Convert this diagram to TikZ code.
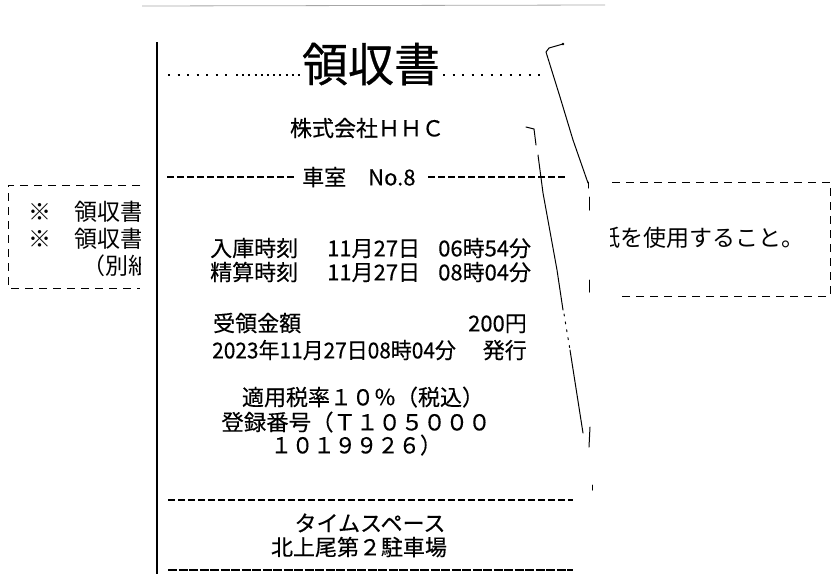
\documentclass[tikz,border=0pt]{standalone}
\usepackage{fontspec}
\setmainfont{Noto Sans CJK JP}
\begin{document}
\begin{tikzpicture}[x=1pt,y=-1pt,
  rc/.style={inner sep=0pt, font=\fontsize{22}{24}\selectfont\addfontfeature{FakeBold=0.3}, text height=19.4pt, text depth=2.6pt},
  doc/.style={inner sep=0pt, font=\fontsize{23}{25}\selectfont, text height=20.2pt, text depth=2.8pt, anchor=west},
  big/.style={inner sep=0pt, font=\fontsize{46}{48}\selectfont\addfontfeature{FakeBold=0.5}, text height=40.5pt, text depth=5.5pt},
  rdash/.style={line width=1.5pt, dash pattern=on 7pt off 3pt},
  rdense/.style={line width=1.5pt, dash pattern=on 9pt off 1.5pt},
  bdash/.style={line width=1pt, dash pattern=on 8pt off 6pt},
  dots/.style={line width=2pt},
  scan/.style={line width=1pt, line cap=round, line join=round}]
\useasboundingbox (0,0) rectangle (834,574);

% top scan line
\draw[gray!70, line width=0.8pt] (142,6) -- (605,5);

% left document box (partly covered)
\draw[bdash] (140,185) -- (8,185) -- (8,288) -- (140,288);
\begin{scope}
  \clip (0,0) rectangle (140,574);
  \node[doc] (l1) at (28,212) {※　領収書};
  \node[doc] (l2) at (28,239) {※　領収書};
  \node[doc] (l3) at (82,266) {（別紙};
\end{scope}

% right document box (partly covered)
\draw[bdash] (612,182) -- (830,182) -- (830,296) -- (620,296);
\begin{scope}
  \clip (610,0) rectangle (834,574);
  \node[doc] (r2) at (597,238) {紙を使用すること。};
\end{scope}

% receipt left edge
\draw[line width=1.2pt] (157,42) -- (157,574);

% title
\node[big] (title) at (371,64) {領収書};
\draw[dots, dash pattern=on 2pt off 7.5pt] (168,75) -- (232,75);
\draw[dots, dash pattern=on 2pt off 4.2pt] (236,75) -- (300,75);
\draw[dots, dash pattern=on 2pt off 7.5pt] (443,75) -- (547,75);

\node[rc] (co) at (367,128) {株式会社ＨＨＣ};

% car room
\node[rc, anchor=west] (room) at (302,177) {車室　No.8};
\draw[rdash] (167,177) -- (297,177);
\draw[rdash] (428,177) -- (568,177);

% times
\node[rc, anchor=west] (in1) at (210,248) {入庫時刻};
\node[rc, anchor=west] (in2) at (327,248) {11月27日};
\node[rc, anchor=west] (in3) at (438,248) {06時54分};
\node[rc, anchor=west] (out1) at (210,272) {精算時刻};
\node[rc, anchor=west] (out2) at (327,272) {11月27日};
\node[rc, anchor=west] (out3) at (438,272) {08時04分};

% amount
\node[rc, anchor=west] (amt1) at (213,323) {受領金額};
\node[rc, anchor=east] (amt2) at (527,323) {200円};
\node[rc, anchor=west] (iss1) at (212,350) {\scalebox{0.95}[1]{2023年11月27日08時04分}};
\node[rc, anchor=east] (iss2) at (527,350) {発行};

% tax
\node[rc] (tax) at (363,397) {適用税率１０％（税込）};
\node[rc] (reg1) at (356,422) {\scalebox{1.02}[1]{登録番号（Ｔ１０５０００}};
\node[rc] (reg2) at (356,445) {\scalebox{0.97}[1]{１０１９９２６）}};

% footer
\draw[rdash] (168,500) -- (573,500);
\node[rc] (f1) at (370,523) {タイムスペース};
\node[rc] (f2) at (359,547) {北上尾第２駐車場};
\draw[rdense] (168,570) -- (573,570);

% scanner curl lines
\draw[scan] (563,44) -- (556,46) -- (549,48) -- (546,52) -- (560,97) -- (573,140) -- (588,183);
\fill (563,44) circle (1.3pt);
\draw[scan] (526,127) -- (534,129) -- (536,145);
\draw[scan] (538,155) -- (543,193) -- (557,270) -- (563,310);
\draw[scan, dash pattern=on 2pt off 6pt] (564,314) -- (570,350);
\draw[scan] (570,350) -- (583,433);
% receipt right edge marks
\draw[scan] (588,182) -- (588,188);
\draw[scan] (589,197) -- (589,210);
\draw[scan] (589,280) -- (589,292);
\draw[scan] (590,427) -- (589,447);
\draw[scan] (592,485) -- (592,490);
\end{tikzpicture}
\end{document}
